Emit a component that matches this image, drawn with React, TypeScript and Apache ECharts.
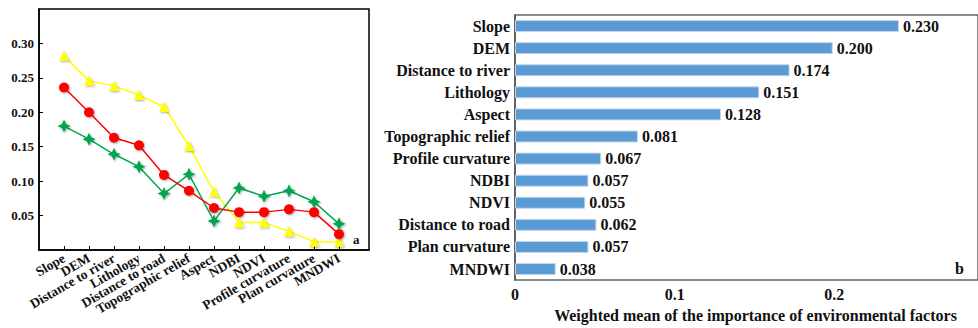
import React, { useEffect, useRef } from "react";
import * as echarts from "echarts";

const lineCategories = [
  "Slope", "DEM", "Distance to river", "Lithology", "Distance to road", "Topographic relief",
  "Aspect", "NDBI", "NDVI", "Profile curvature", "Plan curvature", "MNDWI",
];
const yellowValues = [0.282, 0.246, 0.238, 0.225, 0.208, 0.151, 0.085, 0.040, 0.040, 0.027, 0.012, 0.012];
const redValues = [0.236, 0.200, 0.163, 0.152, 0.109, 0.086, 0.061, 0.055, 0.055, 0.059, 0.055, 0.023];
const greenValues = [0.180, 0.161, 0.139, 0.121, 0.082, 0.110, 0.042, 0.090, 0.078, 0.086, 0.070, 0.038];
const lineYTicks = [0.05, 0.1, 0.15, 0.2, 0.25, 0.3];

const barCategories = [
  "Slope", "DEM", "Distance to river", "Lithology", "Aspect", "Topographic relief",
  "Profile curvature", "NDBI", "NDVI", "Distance to road", "Plan curvature", "MNDWI",
];
const barValues = [0.2405, 0.199, 0.172, 0.153, 0.129, 0.077, 0.054, 0.046, 0.044, 0.051, 0.046, 0.0255];
const barValueLabels = ["0.230", "0.200", "0.174", "0.151", "0.128", "0.081", "0.067", "0.057", "0.055", "0.062", "0.057", "0.038"];
const barXTicks = [0, 0.1, 0.2];

const FONT = "Liberation Serif";
const STAR = "path://M0,-10 L3.2,-3.2 L10,0 L3.2,3.2 L0,10 L-3.2,3.2 L-10,0 L-3.2,-3.2 Z";
const SHADOW = { shadowBlur: 2, shadowColor: "rgba(0,0,0,0.35)", shadowOffsetX: 1, shadowOffsetY: 1 };

export default function App() {
  const ref = useRef<HTMLDivElement>(null);
  useEffect(() => {
    if (!ref.current) return;
    const chart = echarts.init(ref.current, undefined, { renderer: "svg" });
    const idx = lineCategories.map((_, i) => i);
    const labelIdx = [-1, ...idx, lineCategories.length];
    const mk = (vals: number[]) => vals.map((v, i) => [i, v]);
    chart.setOption({
      animation: false,
      textStyle: { fontFamily: FONT },
      grid: [
        { left: 39, top: 9, width: 330, height: 241, show: true, borderColor: "#000", borderWidth: 1.5, backgroundColor: "transparent" },
        { left: 515, top: 15, right: -3, bottom: 44, show: true, borderColor: "#666", borderWidth: 1.5, backgroundColor: "transparent" },
      ],
      xAxis: [
        {
          gridIndex: 0, type: "value", min: -1, max: 12.2, interval: 1,
          splitLine: { show: false },
          axisLine: { onZero: false, lineStyle: { color: "#000", width: 1.5 } },
          axisTick: { inside: true, length: 4, lineStyle: { color: "#000" }, customValues: idx },
          axisLabel: {
            customValues: labelIdx, rotate: 30, margin: 7, hideOverlap: false,
            formatter: (v: number) => lineCategories[Math.round(v)] ?? "",
            fontFamily: FONT, fontWeight: "bold", fontSize: 13.5, color: "#111",
          },
        },
        {
          gridIndex: 1, type: "value", min: 0, max: 0.29, interval: 0.1,
          splitLine: { show: false },
          axisLine: { onZero: false, lineStyle: { color: "#555", width: 1.5 } },
          axisTick: { inside: true, length: 5, lineStyle: { color: "#333" }, customValues: barXTicks },
          axisLabel: {
            customValues: barXTicks, margin: 6, showMinLabel: true,
            formatter: (v: number) => (v === 0 ? "0" : String(Math.round(v * 10) / 10)),
            fontFamily: FONT, fontWeight: "bold", fontSize: 16, color: "#111",
          },
          name: "Weighted mean of the importance of environmental factors",
          nameLocation: "middle", nameGap: 24,
          nameTextStyle: { fontFamily: FONT, fontWeight: "bold", fontSize: 16, color: "#111", padding: [0, 0, 0, 18] },
        },
      ],
      yAxis: [
        {
          gridIndex: 0, type: "value", min: 0, max: 0.35, interval: 0.05,
          splitLine: { show: false },
          axisLine: { onZero: false, lineStyle: { color: "#000", width: 1.5 } },
          axisTick: { inside: true, length: 4, lineStyle: { color: "#000" }, customValues: lineYTicks },
          axisLabel: {
            customValues: lineYTicks, margin: 5,
            formatter: (v: number) => v.toFixed(2),
            fontFamily: FONT, fontWeight: "bold", fontSize: 13, color: "#111",
          },
        },
        {
          gridIndex: 1, type: "category", inverse: true, data: barCategories,
          axisLine: { onZero: false, lineStyle: { color: "#555", width: 1.5 } },
          axisTick: { show: false },
          axisLabel: { margin: 5, interval: 0, fontFamily: FONT, fontWeight: "bold", fontSize: 16, color: "#111" },
        },
      ],
      series: [
        {
          type: "line", xAxisIndex: 0, yAxisIndex: 0, data: mk(yellowValues),
          symbol: "triangle", symbolSize: 10,
          lineStyle: { color: "#ffff00", width: 1.5 }, itemStyle: { color: "#ffff00", ...SHADOW },
        },
        {
          type: "line", xAxisIndex: 0, yAxisIndex: 0, data: mk(greenValues),
          symbol: STAR, symbolSize: 13,
          lineStyle: { color: "#00a650", width: 1.5 }, itemStyle: { color: "#00a650", ...SHADOW },
        },
        {
          type: "line", xAxisIndex: 0, yAxisIndex: 0, data: mk(redValues),
          symbol: "circle", symbolSize: 10,
          lineStyle: { color: "#ff0000", width: 1.5 }, itemStyle: { color: "#ff0000", ...SHADOW },
        },
        {
          type: "bar", xAxisIndex: 1, yAxisIndex: 1, data: barValues, barWidth: 12,
          itemStyle: { color: "#5b9bd5", borderColor: "#c5d6e8", borderWidth: 1 },
          label: {
            show: true, position: "right", distance: 4,
            formatter: (p: any) => barValueLabels[p.dataIndex],
            fontFamily: FONT, fontWeight: "bold", fontSize: 16, color: "#111",
          },
        },
      ],
      graphic: [
        { type: "text", left: 353, top: 233, style: { text: "a", font: `bold 13px "${FONT}"`, fill: "#111" } },
        { type: "text", left: 955, top: 260, style: { text: "b", font: `bold 16px "${FONT}"`, fill: "#111" } },
      ],
    });
    return () => chart.dispose();
  }, []);
  return <div ref={ref} style={{ position: "fixed", left: 0, top: 0, width: 978, height: 328, background: "#fff" }} />;
}
